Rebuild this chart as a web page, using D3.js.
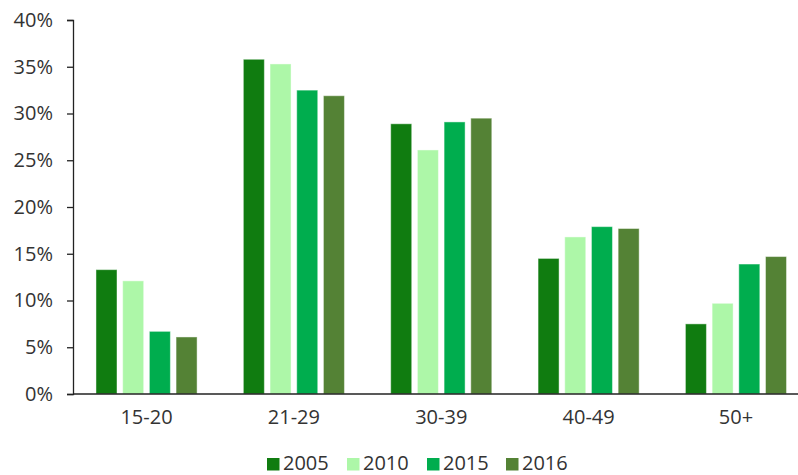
<!DOCTYPE html>
<html>
<head>
<meta charset="utf-8">
<script src="https://cdn.jsdelivr.net/npm/d3@7"></script>
<style>
  html, body { margin: 0; padding: 0; background: #fff; }
  svg text { font-family: "Open Sans", sans-serif; fill: #333; }
</style>
</head>
<body>
<svg id="chart" width="798" height="475"></svg>
<script>
const categories = ["15-20", "21-29", "30-39", "40-49", "50+"];
const seriesNames = ["2005", "2010", "2015", "2016"];
const values2005 = [13.3, 35.8, 28.9, 14.5, 7.5];
const values2010 = [12.1, 35.3, 26.1, 16.8, 9.7];
const values2015 = [6.7, 32.5, 29.1, 17.9, 13.9];
const values2016 = [6.1, 31.9, 29.5, 17.7, 14.7];
const yTicks = [0, 5, 10, 15, 20, 25, 30, 35, 40];
const colors = ["#107c10", "#adf7a8", "#00ad4e", "#548235"];

(function () {
const seriesValues = [values2005, values2010, values2015, values2016];
const svg = d3.select("#chart");

const mLeft = 73, mRight = 809.5, mTop = 20, mBottom = 394;

const x0 = d3.scaleBand().domain(categories).range([mLeft, mRight]).paddingInner(0.314).paddingOuter(0.156);
const x1 = d3.scaleBand().domain(seriesNames).range([0, x0.bandwidth()]).paddingInner(0.213);
const y = d3.scaleLinear().domain([0, 40]).range([mBottom, mTop]);

// bars
const groups = svg.append("g").selectAll("g").data(categories).join("g")
  .attr("transform", d => `translate(${x0(d)},0)`);
groups.selectAll("rect")
  .data((c, i) => seriesNames.map((s, k) => ({ s, v: seriesValues[k][i], k })))
  .join("rect")
  .attr("x", d => x1(d.s))
  .attr("y", d => y(d.v))
  .attr("width", x1.bandwidth())
  .attr("height", d => y(0) - y(d.v))
  .attr("fill", d => colors[d.k])
  .attr("stroke", "#ffffff")
  .attr("stroke-opacity", 0.45)
  .attr("stroke-width", 1);

// y axis
const yAxis = svg.append("g")
  .attr("transform", `translate(${mLeft},0)`)
  .call(d3.axisLeft(y).tickValues(yTicks).tickFormat(d => d + "%").tickSize(6).tickPadding(14));
yAxis.select(".domain").attr("stroke", "#222").attr("stroke-width", 1.3);
yAxis.selectAll(".tick line").attr("stroke", "#222").attr("stroke-width", 1.3);
yAxis.selectAll(".tick text").style("font-size", "20px").attr("fill", "#333");

// x axis
const xAxis = svg.append("g")
  .attr("transform", `translate(0,${mBottom})`)
  .call(d3.axisBottom(x0).tickSize(0).tickPadding(16));
xAxis.select(".domain").attr("stroke", "#222").attr("stroke-width", 1.3).attr("d", `M${mLeft},0H798`);
xAxis.selectAll(".tick text").style("font-size", "20px").attr("fill", "#333");

// legend
const legendX = d3.scaleOrdinal().domain(seriesNames).range([267, 347, 427, 506]);
const legend = svg.append("g").selectAll("g").data(seriesNames).join("g")
  .attr("transform", d => `translate(${legendX(d)},0)`);
legend.append("rect").attr("x", 0).attr("y", 458).attr("width", 12.5).attr("height", 12.5)
  .attr("fill", (d, i) => colors[i]);
legend.append("text").attr("x", 16).attr("y", 469.5).style("font-size", "20px").text(d => d);
})();
</script>
</body>
</html>
